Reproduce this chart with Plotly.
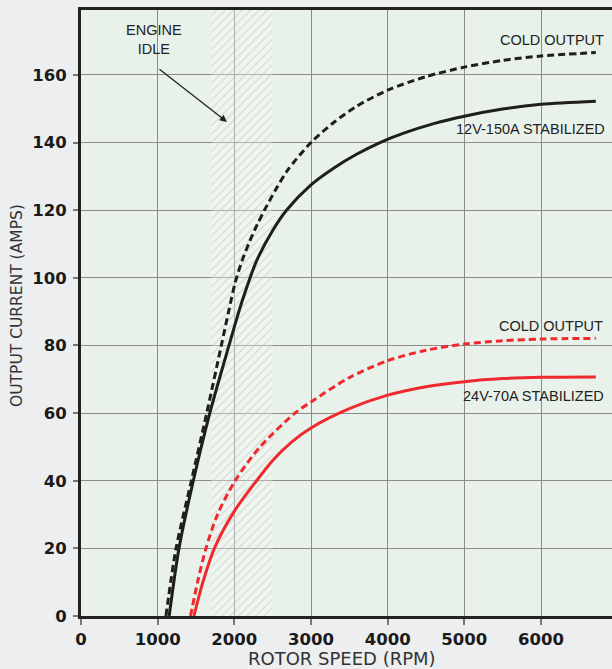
import plotly.graph_objects as go

# ---- data ----
stab12_x = [1150, 1278, 1465, 1680, 1930, 2000, 2100, 2290, 2500, 2680, 3000, 3300, 3600, 3900, 4200, 4600, 5000, 5500, 6000, 6715]
stab12_y = [0, 20, 40, 60, 80, 85.5, 93, 105, 114, 120, 127.5, 132.5, 136.6, 140, 142.7, 145.6, 147.8, 149.9, 151.3, 152.2]

cold12_x = [1108, 1240, 1440, 1640, 1830, 1925, 2010, 2100, 2200, 2300, 2400, 2550, 2700, 3000, 3300, 3600, 4000, 4500, 5000, 5500, 6000, 6715]
cold12_y = [0, 20, 40, 60, 80, 90, 98.5, 105, 110.8, 115.8, 120.3, 126.5, 132, 140, 146, 150.8, 155.5, 159.5, 162.3, 164.3, 165.6, 166.6]

stab24_x = [1473, 1590, 1740, 2000, 2290, 2500, 2750, 3000, 3500, 4000, 4500, 5000, 5500, 6000, 6715]
stab24_y = [0, 10, 20, 31, 40, 46, 51.5, 55.6, 61.3, 65.3, 67.8, 69.3, 70.2, 70.6, 70.7]

cold24_x = [1429, 1520, 1630, 1780, 2010, 2335, 2791, 3000, 3500, 4000, 4500, 5000, 5500, 6000, 6715]
cold24_y = [0, 10, 20, 30, 40, 50, 60, 63.3, 70.5, 75.5, 78.6, 80.4, 81.4, 81.9, 82.1]

idle_range = [1700, 2500]
x_ticks = [0, 1000, 2000, 3000, 4000, 5000, 6000]
y_ticks = [0, 20, 40, 60, 80, 100, 120, 140, 160]
x_max = 6926
y_max = 179.2

BLACK = "#1e1e1e"
RED = "#ee2a2e"

fig = go.Figure()

# engine idle hatched band
fig.add_trace(go.Scatter(
    x=[idle_range[0], idle_range[1], idle_range[1], idle_range[0], idle_range[0]],
    y=[0, 0, y_max, y_max, 0],
    mode="lines", fill="toself", line=dict(width=0),
    fillcolor="rgba(0,0,0,0)",
    fillpattern=dict(shape="/", fgcolor="#bcc1bc", bgcolor="rgba(255,255,255,0.3)",
                     size=6, solidity=0.22),
    hoverinfo="skip", showlegend=False))

def curve(x, y, color, dash):
    fig.add_trace(go.Scatter(x=x, y=y, mode="lines",
                             line=dict(color=color, width=3, dash=dash, shape="spline", smoothing=0.8),
                             showlegend=False))

curve(cold12_x, cold12_y, BLACK, "7px,4px")
curve(stab12_x, stab12_y, BLACK, "solid")
curve(cold24_x, cold24_y, RED, "7px,4px")
curve(stab24_x, stab24_y, RED, "solid")

lab_font = dict(family="Liberation Sans", size=14.5, color="#222222")
annos = [
    dict(x=6139, y=170.2, text="COLD OUTPUT"),
    dict(x=5869, y=143.9, text="12V-150A STABILIZED"),
    dict(x=6133, y=85.8, text="COLD OUTPUT"),
    dict(x=5905, y=65.0, text="24V-70A STABILIZED"),
    dict(x=952, y=170.5, text="ENGINE<br>IDLE"),
]
for a in annos:
    fig.add_annotation(x=a["x"], y=a["y"], text=a["text"], showarrow=False,
                       font=lab_font, xanchor="center", yanchor="middle", align="center")

# arrow
fig.add_annotation(x=1904, y=146.1, ax=1004, ay=162.0, xref="x", yref="y",
                   axref="x", ayref="y", text="", showarrow=True,
                   arrowhead=2, arrowsize=1.1, arrowwidth=1.3, arrowcolor="#222222")

# axis titles
title_font = dict(family="DejaVu Sans", color="#333333")
fig.add_annotation(xref="paper", yref="paper", x=0, y=0.5116, xshift=-64,
                   text="OUTPUT CURRENT (AMPS)", textangle=-90, showarrow=False,
                   font=dict(size=15.5, **title_font), xanchor="center", yanchor="middle")
fig.add_annotation(xref="paper", yref="paper", x=0.4906, y=0, yshift=-42,
                   text="ROTOR SPEED (RPM)", showarrow=False,
                   font=dict(size=18, **title_font), xanchor="center", yanchor="middle")

tick_font = dict(family="DejaVu Sans", size=16.5, color="#1a1a1a", weight="bold")

fig.update_xaxes(range=[0, x_max], tickvals=x_ticks, ticktext=[str(v) for v in x_ticks],
                 showgrid=True, gridcolor="#8f8a87", gridwidth=1, zeroline=False,
                 showline=True, linecolor="#222222", linewidth=3, mirror=True,
                 ticks="outside", ticklen=6, tickcolor="#777777", tickwidth=1.5,
                 tickfont=tick_font)
fig.update_yaxes(range=[0, y_max], tickvals=y_ticks, ticktext=[str(v) for v in y_ticks],
                 showgrid=True, gridcolor="#8f8a87", gridwidth=1, zeroline=False,
                 showline=True, linecolor="#222222", linewidth=3, mirror=False,
                 ticks="outside", ticklen=5, tickcolor="#777777", tickwidth=1.5,
                 tickfont=tick_font, ticklabelstandoff=3)

fig.update_layout(width=612, height=669,
                  margin=dict(l=81, r=0, t=10, b=53),
                  paper_bgcolor="#eceef0", plot_bgcolor="#e8f2ea",
                  showlegend=False)

fig.write_html("out.html", config={"displayModeBar": False},
               post_script="document.body.style.margin='0px';document.body.style.overflow='hidden';")
